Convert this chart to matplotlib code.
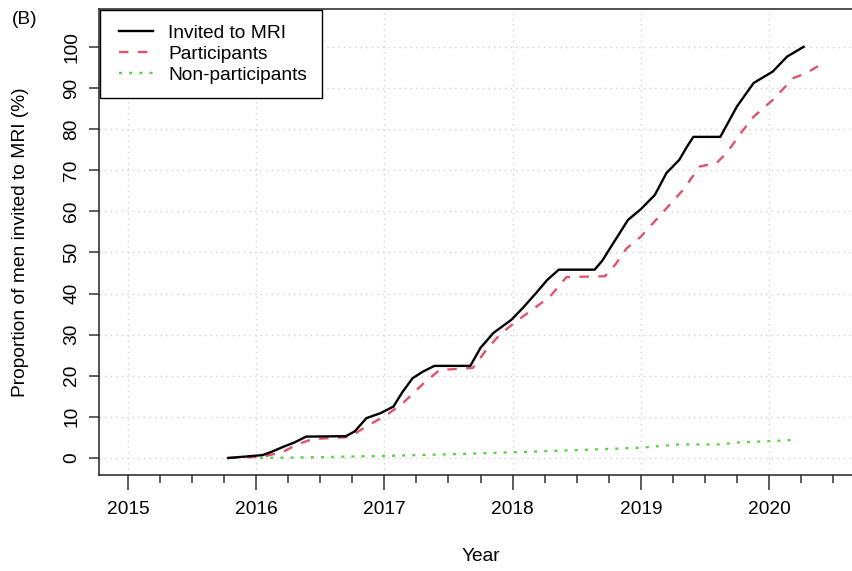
import matplotlib
matplotlib.use("Agg")
import matplotlib.pyplot as plt
from matplotlib.legend_handler import HandlerLine2D
import numpy as np

plt.rcParams['font.family'] = ['Liberation Sans', 'DejaVu Sans']

# ---- data ----
invited_year = [2015.78, 2015.90, 2016.05, 2016.12, 2016.21, 2016.30, 2016.39, 2016.70,
                2016.77, 2016.86, 2016.97, 2017.07, 2017.14, 2017.22, 2017.30, 2017.39,
                2017.67, 2017.75, 2017.85, 2017.99, 2018.08, 2018.18, 2018.27, 2018.36,
                2018.64, 2018.70, 2018.76, 2018.90, 2019.00, 2019.11, 2019.20, 2019.30,
                2019.36, 2019.41, 2019.62, 2019.68, 2019.75, 2019.88, 2020.03, 2020.14,
                2020.27]
invited_pct = [0, 0.3, 0.7, 1.5, 2.7, 3.8, 5.2, 5.3,
               6.5, 9.7, 10.9, 12.5, 16.0, 19.4, 21.0, 22.4,
               22.4, 26.8, 30.4, 33.6, 36.5, 40.0, 43.3, 45.8,
               45.8, 48.0, 51.0, 57.9, 60.5, 64.0, 69.3, 72.5,
               75.7, 78.1, 78.1, 81.5, 85.5, 91.2, 94.0, 97.6,
               100]

part_year = [2015.78, 2016.05, 2016.21, 2016.32, 2016.44, 2016.73, 2016.85, 2017.02,
             2017.15, 2017.30, 2017.43, 2017.69, 2017.80, 2017.90, 2018.01, 2018.15,
             2018.29, 2018.42, 2018.72, 2018.80, 2018.89, 2019.00, 2019.15, 2019.33,
             2019.46, 2019.59, 2019.67, 2019.78, 2019.88, 2020.03, 2020.19, 2020.29,
             2020.41]
part_pct = [0, 0.3, 1.5, 3.3, 4.6, 5.1, 7.5, 10.5,
            13.5, 18.0, 21.4, 21.9, 26.5, 30.0, 32.8, 36.0,
            39.2, 44.0, 44.2, 47.0, 51.0, 53.8, 59.0, 65.2,
            70.9, 71.7, 74.2, 79.0, 83.0, 87.1, 92.4, 93.6,
            95.8]

nonpart_year = [2016.03, 2016.5, 2017.0, 2017.5, 2017.72, 2018.0, 2018.5, 2019.0,
                2019.15, 2019.3, 2019.62, 2019.77, 2020.01, 2020.21]
nonpart_pct = [0, 0.2, 0.5, 0.9, 1.1, 1.4, 1.9, 2.5,
               2.9, 3.3, 3.3, 3.8, 4.1, 4.4]

year_ticks = [2015, 2016, 2017, 2018, 2019, 2020]
pct_ticks = [0, 10, 20, 30, 40, 50, 60, 70, 80, 90, 100]

# ---- figure ----
W, H = 853, 571
fig = plt.figure(figsize=(W / 100, H / 100), dpi=100)
ax_left, ax_right, ax_top, ax_bottom = 99, 863, 9, 475
ax = fig.add_axes([ax_left / W, (H - ax_bottom) / H,
                   (ax_right - ax_left) / W, (ax_bottom - ax_top) / H])

fs = 13.8
red = "#DF536B"
green = "#61D04F"

ax.plot(invited_year, invited_pct, color="black", lw=1.7, label="Invited to MRI",
        solid_joinstyle="round", zorder=4)
ax.plot(part_year, part_pct, color=red, lw=1.7, linestyle=(0, (4, 4)),
        label="Participants", zorder=3)
ax.plot(nonpart_year, nonpart_pct, color=green, lw=1.7, linestyle=(0, (1.3, 3)),
        label="Non-participants", zorder=3)

x0 = 2015 - (128 - ax_left) / 128.2
x1 = x0 + (ax_right - ax_left) / 128.2

for yv in year_ticks:
    ax.axvline(yv, color="#D3D3D3", lw=1.0, linestyle=(0, (1, 3)), zorder=1)
for pv in pct_ticks:
    ax.axhline(pv, color="#D3D3D3", lw=1.0, linestyle=(0, (1, 3)), zorder=1)

ax.set_xticks(year_ticks)
ax.set_xticklabels([str(y) for y in year_ticks], fontsize=fs)
minor = [y + q for y in range(2014, 2021) for q in (0.25, 0.5, 0.75)]
minor = [m for m in minor if x0 <= m <= x1]
ax.set_xticks(minor, minor=True)
ax.tick_params(axis="x", which="major", length=10.5, width=1.1, pad=8, color="#333333")
ax.tick_params(axis="x", which="minor", length=5.5, width=1.1, color="#333333")

ax.set_yticks(pct_ticks)
ax.set_yticklabels([str(p) for p in pct_ticks], fontsize=fs, rotation=90, va="center")
ax.tick_params(axis="y", length=7.5, width=1.1, pad=6, color="#333333")

ax.set_xlim(x0, x1)
ax.set_ylim(-4.14, 109.2)

for s in ax.spines.values():
    s.set_color("#222222")
    s.set_linewidth(1.1)

ax.set_xlabel("Year", fontsize=fs)
ax.xaxis.set_label_coords((481 - ax_left) / (ax_right - ax_left),
                          -(548 - ax_bottom) / (ax_bottom - ax_top))
ax.set_ylabel("Proportion of men invited to MRI (%)", fontsize=fs)
ax.yaxis.set_label_coords(-(ax_left - 29) / (ax_right - ax_left), 0.5)


class ShiftedLine(HandlerLine2D):
    def get_xdata(self, legend, xdescent, ydescent, width, height, fontsize):
        xd, xm = super().get_xdata(legend, xdescent, ydescent, width, height, fontsize)
        xd = np.asarray(xd, dtype=float)
        xd[0] = xd[0] + 3.0
        return xd, xm


leg = ax.legend(loc="upper left", bbox_to_anchor=(0.0013, 0.998), borderaxespad=0,
                fontsize=fs, frameon=True, fancybox=False, handlelength=2.0,
                handletextpad=0.8, labelspacing=0.18, borderpad=0.76,
                handler_map={plt.Line2D: ShiftedLine()})
leg.get_frame().set_edgecolor("black")
leg.get_frame().set_linewidth(1.0)
leg.get_frame().set_alpha(1)

fig.text(25 / W, 1 - 20 / H, "(B)", fontsize=fs, ha="center", va="center")

fig.savefig("out.png", dpi=100)
